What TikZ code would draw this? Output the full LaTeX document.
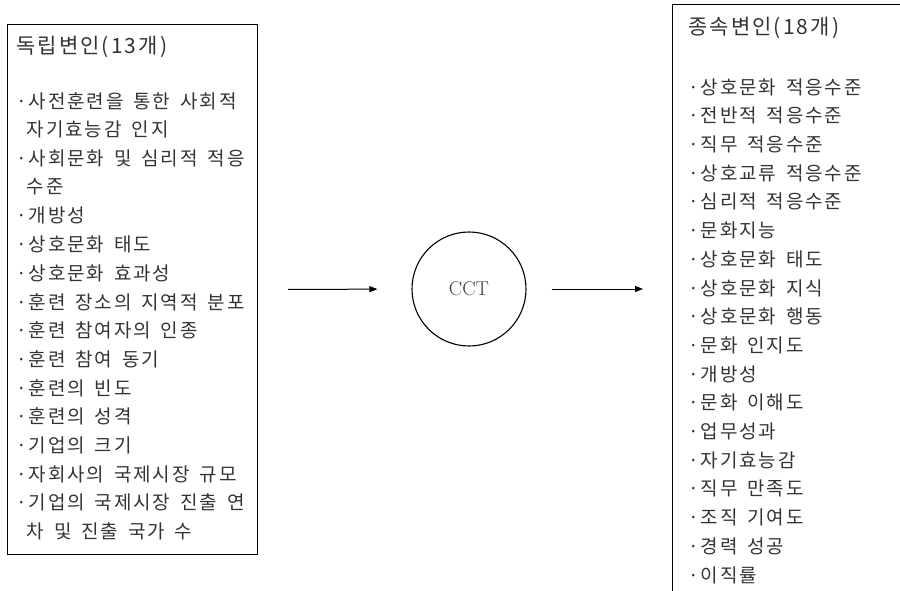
\documentclass[tikz,border=0pt]{standalone}
\usepackage{fontspec}
\newfontfamily\korhead[LetterSpace=10]{Noto Sans CJK KR}
\newfontfamily\koritem[LetterSpace=10,WordSpace=1.6]{Noto Sans CJK KR}
\usetikzlibrary{arrows.meta}
\tikzset{
  varbox/.style={draw, line width=1.2pt, inner sep=0pt},
  headtxt/.style={anchor=west, inner sep=0pt, text=black!80, font=\korhead\fontsize{21}{24}\selectfont},
  itemtxt/.style={anchor=west, inner sep=0pt, text=black!80, font=\koritem\fontsize{19}{22}\selectfont},
  flow/.style={line width=1pt, -{Triangle[length=8pt,width=6pt]}}
}
\begin{document}
\begin{tikzpicture}[x=1pt, y=-1pt]
    \useasboundingbox (0,0) rectangle (900,591);
    \begin{scope}
    \clip (0,0) rectangle (900,591);

    % independent variables on the left
    \node[varbox, anchor=north west, minimum width=250pt, minimum height=530pt] (indep) at (7,24) {};
    \node[headtxt] (indephead) at (16,47) {독립변인(13개)};
    \foreach \t [count=\k from 0] in {·사전훈련을 통한 사회적, \phantom{·}자기효능감 인지,
        ·사회문화 및 심리적 적응, \phantom{·}수준, ·개방성, ·상호문화 태도, ·상호문화 효과성,
        ·훈련 장소의 지역적 분포, ·훈련 참여자의 인종, ·훈련 참여 동기, ·훈련의 빈도,
        ·훈련의 성격, ·기업의 크기, ·자회사의 국제시장 규모, ·기업의 국제시장 진출 연,
        \phantom{·}차 및 진출 국가 수}
        \node[itemtxt] (indep\k) at (16,{101+28.7*\k}) {\t};

    % dependent variables on the right
    \node[varbox, anchor=north west, minimum width=260pt, minimum height=620pt] (dep) at (672,4) {};
    \node[headtxt] (dephead) at (688,28) {종속변인(18개)};
    \foreach \t [count=\k from 0] in {·상호문화 적응수준, ·전반적 적응수준, ·직무 적응수준,
        ·상호교류 적응수준, ·심리적 적응수준, ·문화지능, ·상호문화 태도, ·상호문화 지식,
        ·상호문화 행동, ·문화 인지도, ·개방성, ·문화 이해도, ·업무성과, ·자기효능감,
        ·직무 만족도, ·조직 기여도, ·경력 성공, ·이직률}
        \node[itemtxt] (dep\k) at (688,{87+28.7*\k}) {\t};
    \end{scope}

    \node[draw, circle, line width=1.1pt, minimum size=114pt, inner sep=0pt,
        text=black!75, font=\fontsize{20}{24}\selectfont] (cct) at (469,289) {CCT};

    \draw[flow, shorten <=30pt, shorten >=34pt] (indep.east) -- (cct.west);
    \draw[flow, shorten <=25pt, shorten >=29pt] (cct.east) -- (dep.west |- cct.east);
\end{tikzpicture}
\end{document}
